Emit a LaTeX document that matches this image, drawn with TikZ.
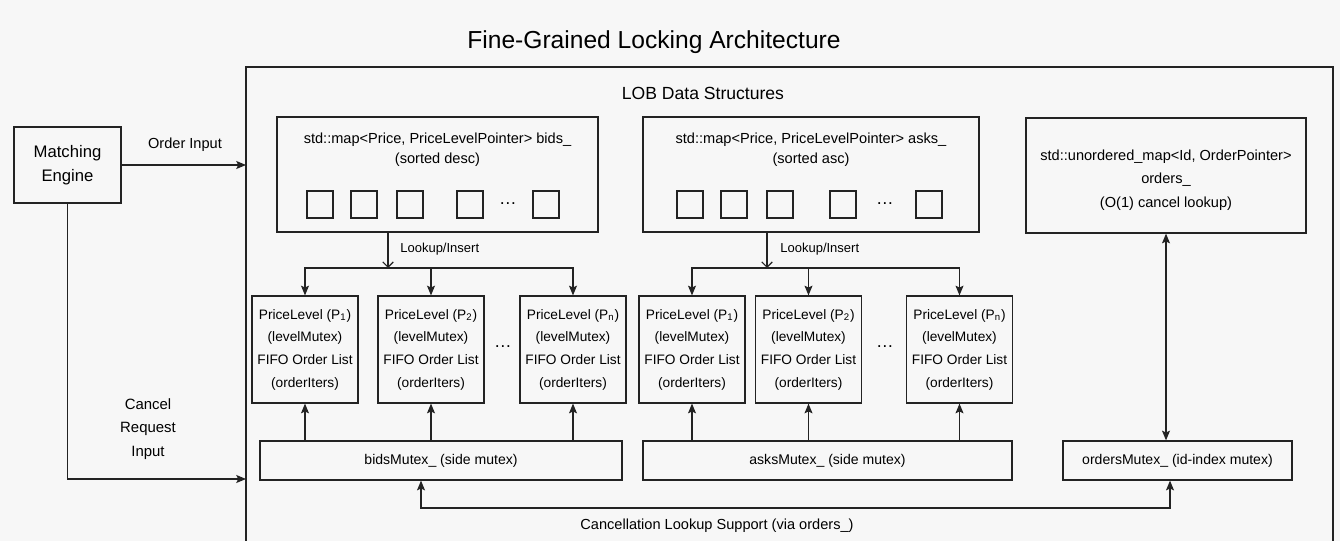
\documentclass[tikz,border=0pt]{standalone}
\usepackage{fontspec}
\setmainfont{Liberation Sans}
\usetikzlibrary{calc,arrows.meta,positioning}

\definecolor{paper}{RGB}{247,247,247}
\definecolor{ink}{RGB}{35,35,35}
\newcommand\fsz[2]{\fontsize{#1}{#2}\selectfont}

\begin{document}
\begin{tikzpicture}[x=0.02cm,y=-0.02cm,
    box/.style={draw=ink,line width=0.7pt,inner sep=0pt},
    arr/.style={draw=ink,line width=0.7pt,-{Stealth[length=5.5pt,width=4.5pt,inset=1pt]}},
    biarr/.style={draw=ink,line width=0.7pt,{Stealth[length=5.5pt,width=4.5pt,inset=1pt]}-{Stealth[length=5.5pt,width=4.5pt,inset=1pt]}},
    openarr/.style={draw=ink,line width=0.7pt,-{Straight Barb[length=3pt,width=6pt]}},
    mapbox/.style={box,minimum height=2.3cm},
    cell/.style={box,minimum width=0.52cm,minimum height=0.54cm},
    level/.style={box,minimum width=2.12cm,minimum height=2.14cm,align=center,font=\fsz{7.8}{12.9}},
    mutex/.style={box,minimum height=0.78cm,font=\fsz{8}{10}},
    lbl/.style={inner sep=0pt,align=center,font=\fsz{8.3}{11.4}},
    gap/.style={inner sep=0pt,font=\fsz{10}{12}}]

        % pixel grid of the page: 1340 x 541
        \fill[paper] (0,0) rectangle (1340,541);
        \useasboundingbox (0,0) rectangle (1340,541);

        \node[font=\fsz{14}{16}] (title) at (654,42) {Fine-Grained Locking Architecture};

        % container, open at the bottom edge
        \coordinate (lobNW) at (246,67);
        \coordinate (lobNE) at (1333,67);
        \coordinate (lobSW) at (246,541);
        \coordinate (lobSE) at (1333,541);
        \draw[box] (lobSW) -- (lobNW) -- (lobNE) -- (lobSE);
        \node[font=\fsz{10}{12}] (lobtitle) at (703,93) {LOB Data Structures};

        \node[box,minimum width=2.14cm,minimum height=1.52cm,align=center,font=\fsz{9.5}{14}] (engine) at (67.5,165) {Matching\\Engine};

        % the three maps
        \node[mapbox,minimum width=6.42cm] (bidsmap) at (437.5,174.5) {};
        \node[lbl] (bidstxt) at (437.5,150) {std::map<Price, PriceLevelPointer> bids\_\\(sorted desc)};
        \foreach \x [count=\i] in {320,364,410,470,546}
            \node[cell] (bc\i) at (\x,204.5) {};
        \node[gap] (bcdots) at (508,204) {…};

        \node[mapbox,minimum width=6.72cm] (asksmap) at (811,174.5) {};
        \node[lbl] (askstxt) at (811,150) {std::map<Price, PriceLevelPointer> asks\_\\(sorted asc)};
        \foreach \x [count=\i] in {690,734,780,843,929}
            \node[cell] (ac\i) at (\x,204.5) {};
        \node[gap] (acdots) at (885,204) {…};

        \node[mapbox,minimum width=5.6cm] (ordmap) at (1166,175.5) {};
        \node[lbl,font=\fsz{8.3}{13.5}] (ordtxt) at (1166,180) {std::unordered\_map<Id, OrderPointer>\\orders\_\\(O(1) cancel lookup)};

        % price levels
        \foreach \x/\s [count=\i] in {305/1,431/2,573/n}
            \node[level] (bp\i) at (\x,349.5) {PriceLevel (P\textsubscript{\s})\\(levelMutex)\\FIFO Order List\\(orderIters)};
        \foreach \x/\s [count=\i] in {692/1,808.5/2,959.5/n}
            \node[level] (ap\i) at (\x,349.5) {PriceLevel (P\textsubscript{\s})\\(levelMutex)\\FIFO Order List\\(orderIters)};
        \node[gap] (bpdots) at (503,347) {…};
        \node[gap] (apdots) at (885,347) {…};

        % mutexes
        \node[mutex,minimum width=7.24cm] (bidsmtx) at (441,460.5) {bidsMutex\_ (side mutex)};
        \node[mutex,minimum width=7.38cm] (asksmtx) at (827.5,460.5) {asksMutex\_ (side mutex)};
        \node[mutex,minimum width=4.58cm] (ordmtx) at (1177.5,460.5) {ordersMutex\_ (id-index mutex)};

        % inputs from the engine
        \coordinate (cancelin) at (246,479);
        \draw[arr] (engine.east) -- (engine.east -| lobNW);
        \draw[arr] (engine.south) |- (cancelin);
        \node[lbl] (ordin) at (185,145) {Order Input};
        \node[lbl,font=\fsz{8.5}{13.4}] (cancreq) at (148,429) {Cancel\\Request\\Input};

        % lookup/insert fan-out
        \coordinate (bidsjoin) at (388,268);
        \coordinate (asksjoin) at (767,268);
        \draw[openarr] (bidsmap.south -| bidsjoin) -- (bidsjoin);
        \draw[openarr] (asksmap.south -| asksjoin) -- (asksjoin);
        \foreach \i in {1,2,3} {
            \draw[arr] (bidsjoin) -| (bp\i.north);
            \draw[arr] (asksjoin) -| (ap\i.north);
            \draw[arr] (bp\i.south |- bidsmtx.north) -- (bp\i.south);
            \draw[arr] (ap\i.south |- asksmtx.north) -- (ap\i.south);
        }
        \node[lbl,font=\fsz{7.4}{9},anchor=west] (bidslk) at (400,249) {Lookup/Insert};
        \node[lbl,font=\fsz{7.4}{9},anchor=west] (askslk) at (780,249) {Lookup/Insert};

        \draw[biarr] (ordmap.south) -- (ordmap.south |- ordmtx.north);

        % cancellation path
        \coordinate (cancL) at (421,508);
        \coordinate (cancR) at (1170,508);
        \draw[biarr] (bidsmtx.south -| cancL) -- (cancL) -- (cancR) -- (ordmtx.south -| cancR);
        \node[lbl] (canclbl) at (717,526) {Cancellation Lookup Support (via orders\_)};
    \end{tikzpicture}
\end{document}
